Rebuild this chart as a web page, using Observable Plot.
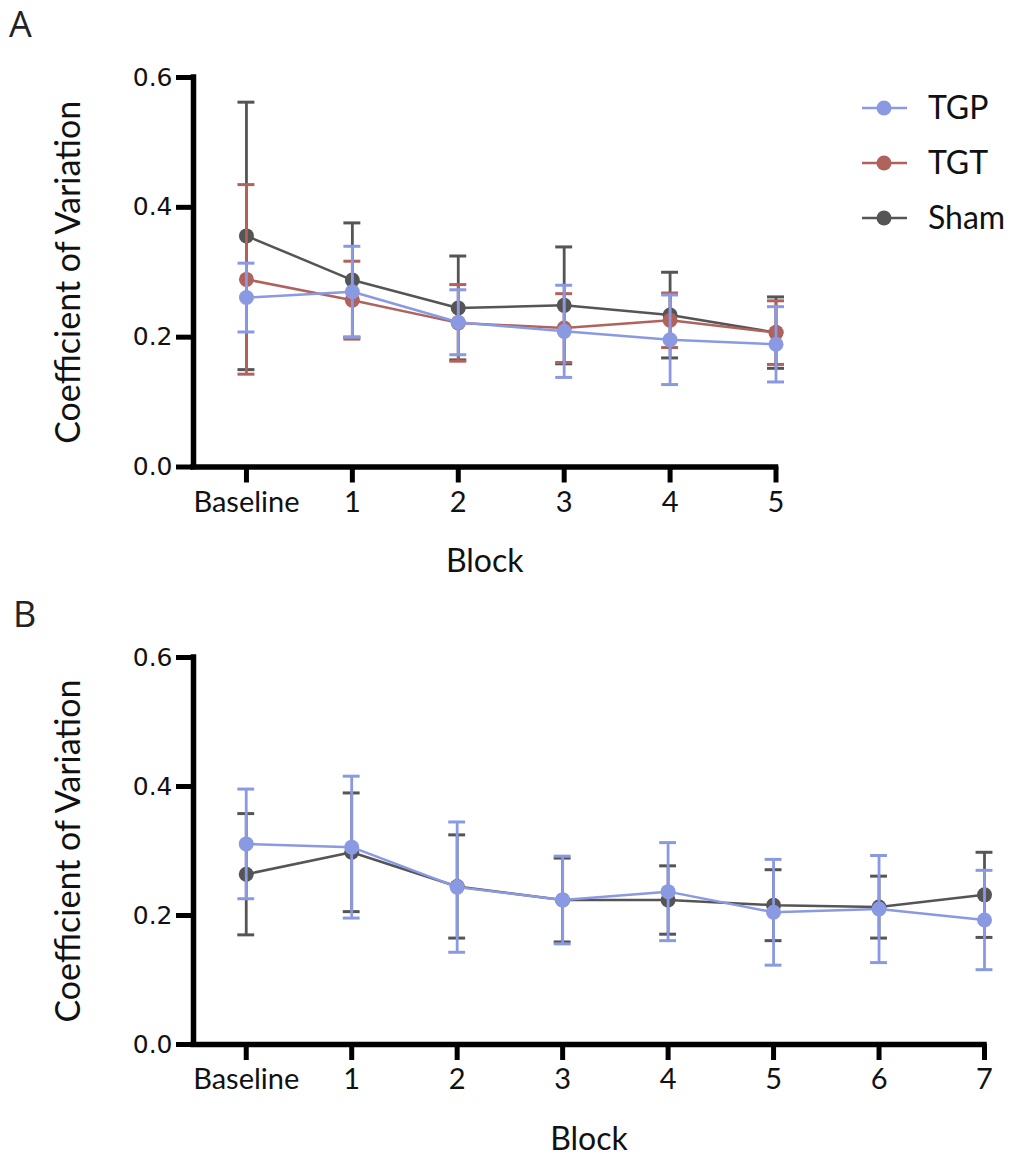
<!DOCTYPE html>
<html><head><meta charset="utf-8">
<script src="https://cdn.jsdelivr.net/npm/d3@7"></script>
<script src="https://cdn.jsdelivr.net/npm/@observablehq/plot@0.6"></script>
<style>
body{margin:0;background:#fff;}
#wrap{position:relative;width:1017px;height:1159px;color:#111;font-family:Lato,sans-serif;}
.panel{position:absolute;left:0;}
.letter{position:absolute;font-family:"Open Sans",sans-serif;font-size:36px;color:#222;line-height:1;}
#legend{position:absolute;left:0;top:0;}
</style></head>
<body><div id="wrap">
<div class="letter" style="left:9px;top:6px;">A</div>
<div class="letter" style="left:13px;top:596px;">B</div>
<div class="panel" id="pa" style="top:0"></div>
<div class="panel" id="pb" style="top:590px"></div>
</div>
<script>
// ---- data ----
const groups = ["TGP", "TGT", "Sham"];
const colors = ["#8a9ae2", "#b0625c", "#555555"];
const yTicks = [0, 0.2, 0.4, 0.6];

const blocksA = ["Baseline", "1", "2", "3", "4", "5"];
const meanA_TGP  = [0.261, 0.270, 0.223, 0.209, 0.196, 0.189];
const errA_TGP   = [0.053, 0.070, 0.050, 0.071, 0.069, 0.058];
const meanA_TGT  = [0.289, 0.257, 0.222, 0.214, 0.226, 0.207];
const errA_TGT   = [0.146, 0.060, 0.059, 0.053, 0.042, 0.049];
const meanA_Sham = [0.356, 0.288, 0.245, 0.249, 0.234, 0.207];
const errA_Sham  = [0.206, 0.088, 0.080, 0.090, 0.066, 0.055];

const blocksB = ["Baseline", "1", "2", "3", "4", "5", "6", "7"];
const meanB_TGP  = [0.311, 0.306, 0.244, 0.224, 0.237, 0.205, 0.210, 0.193];
const errB_TGP   = [0.085, 0.110, 0.101, 0.068, 0.076, 0.082, 0.083, 0.077];
const meanB_Sham = [0.264, 0.298, 0.245, 0.224, 0.224, 0.216, 0.213, 0.232];
const errB_Sham  = [0.094, 0.092, 0.080, 0.065, 0.053, 0.055, 0.048, 0.066];

function panel(blocks, series, o) {
  const n = blocks.length;
  const idx = d3.range(n);
  const marks = [
    Plot.ruleY([0], {x1: -0.5, x2: n - 1, stroke: "#000", strokeWidth: 5.5, strokeLinecap: "square"}),
    Plot.ruleX([-0.5], {y1: 0, y2: 0.6, stroke: "#000", strokeWidth: 5.5, strokeLinecap: "square"}),
    Plot.axisY(yTicks, {tickSize: 17, strokeWidth: 5, tickPadding: 4, tickFormat: d => d.toFixed(1), label: null,
      fontSize: 25, fontFamily: "DejaVu Sans", fill: "#111", stroke: "#000"}),
    Plot.axisX(idx, {tickSize: 16, strokeWidth: 5, tickPadding: 8, tickFormat: i => blocks[i], label: null,
      fontSize: 29, fontFamily: "Lato", fill: "#111", stroke: "#000"}),
    Plot.text(["Block"], {frameAnchor: "bottom", dy: 105, fontSize: 32, fontFamily: "Lato", fill: "#111"}),
    Plot.text(["Coefficient of Variation"], {frameAnchor: "left", textAnchor: "middle", dx: -124, rotate: -90, fontSize: 34, fontFamily: "Lato", fill: "#111"})
  ];
  for (const s of series) {
    const data = idx.map(i => ({x: i, m: s.mean[i], lo: s.mean[i] - s.err[i], hi: s.mean[i] + s.err[i]}));
    marks.push(Plot.ruleX(data, {x: "x", y1: "lo", y2: "hi", stroke: s.color, strokeWidth: 2.8}));
    marks.push(Plot.ruleY(data, {y: "hi", x1: d => d.x - 0.08, x2: d => d.x + 0.08, stroke: s.color, strokeWidth: 3}));
    marks.push(Plot.ruleY(data, {y: "lo", x1: d => d.x - 0.08, x2: d => d.x + 0.08, stroke: s.color, strokeWidth: 3}));
    marks.push(Plot.line(data, {x: "x", y: "m", stroke: s.color, strokeWidth: 2.5}));
    marks.push(Plot.dot(data, {x: "x", y: "m", r: 7.5, fill: s.color}));
  }
  return Plot.plot({
    width: 1017, height: o.height,
    marginLeft: 193, marginRight: o.marginRight, marginTop: o.marginTop, marginBottom: o.marginBottom,
    x: {domain: [-0.5, n - 1], label: null},
    y: {domain: [0, 0.6], label: null},
    style: {background: "transparent", overflow: "visible"},
    marks
  });
}

const seriesA = [
  {mean: meanA_Sham, err: errA_Sham, color: colors[2]},
  {mean: meanA_TGT, err: errA_TGT, color: colors[1]},
  {mean: meanA_TGP, err: errA_TGP, color: colors[0]}
];
const seriesB = [
  {mean: meanB_Sham, err: errB_Sham, color: colors[2]},
  {mean: meanB_TGP, err: errB_TGP, color: colors[0]}
];
document.getElementById("pa").appendChild(panel(blocksA, seriesA, {height: 590, marginTop: 77, marginBottom: 123.5, marginRight: 241.5}));
document.getElementById("pb").appendChild(panel(blocksB, seriesB, {height: 569, marginTop: 67, marginBottom: 115, marginRight: 33}));

// legend
const ns = "http://www.w3.org/2000/svg";
const lg = document.createElementNS(ns, "svg");
lg.setAttribute("width", 1017); lg.setAttribute("height", 260);
lg.setAttribute("id", "legend");
const rowY = [108, 163, 218];
groups.forEach((g, i) => {
  const l = document.createElementNS(ns, "line");
  l.setAttribute("x1", 862); l.setAttribute("x2", 907); l.setAttribute("y1", rowY[i]); l.setAttribute("y2", rowY[i]);
  l.setAttribute("stroke", colors[i]); l.setAttribute("stroke-width", 2.5);
  lg.appendChild(l);
  const c = document.createElementNS(ns, "circle");
  c.setAttribute("cx", 884); c.setAttribute("cy", rowY[i]); c.setAttribute("r", 7.5); c.setAttribute("fill", colors[i]);
  lg.appendChild(c);
  const t = document.createElementNS(ns, "text");
  t.setAttribute("x", 928); t.setAttribute("y", rowY[i]); t.setAttribute("dy", "0.35em");
  t.setAttribute("font-family", "Lato"); t.setAttribute("font-size", 32); t.setAttribute("fill", "#111");
  t.textContent = g;
  lg.appendChild(t);
});
document.getElementById("wrap").appendChild(lg);
</script>
</body></html>
